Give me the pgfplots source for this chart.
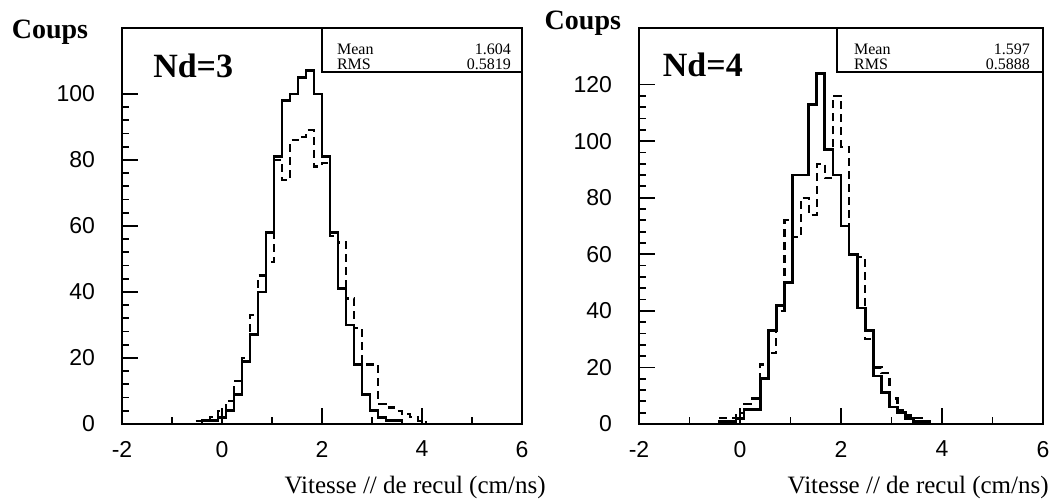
\documentclass[border=0pt]{standalone}
\usepackage{fontspec}
\setmainfont{Liberation Serif}
\setsansfont{Liberation Sans}
\usepackage{pgfplots}
\pgfplotsset{compat=1.18}

% PAW-like histogram frame
\pgfplotsset{
  paw/.style={
    scale only axis,
    width=200pt, height=198pt,
    xmin=-2, xmax=6, ymin=0,
    axis line style={line width=1pt},
    tick align=inside, xtick pos=bottom, ytick pos=left,
    xtick={-2,0,2,4,6}, xticklabels={-2,0,2,4,6},
    minor xtick={-1,1,3,5},
    minor y tick num=4,
    major tick length=8pt, minor tick length=3.5pt,
    every tick/.style={line width=0.9pt, black},
    ticklabel style={font=\sffamily\fontsize{11.5}{11.5}\selectfont},
    yticklabel style={xshift=-10pt},
    xticklabel style={yshift=-5pt},
    clip=false,
  },
  solidh/.style={black, line width=1.4pt, const plot},
  dashh/.style={black, line width=1.1pt, dash pattern=on 4pt off 2.5pt, const plot},
}
\tikzset{
  stat/.style={font=\fontsize{8}{8}\selectfont},
  xlab/.style={anchor=east, inner sep=0pt, font=\fontsize{12.5}{12.5}\selectfont},
}

\begin{document}
\begin{tikzpicture}[x=1pt,y=1pt]
\useasboundingbox (0,0) rectangle (527,251);

% ---- Nd=3 ----
\begin{axis}[paw, at={(61pt,39pt)}, anchor=south west,
    ymax=120, ytick={0,20,...,100}, yticklabels={0,20,40,60,80,100}]
  \addplot[dashh] coordinates {
    (-0.72,0) (-0.56,1) (-0.40,1) (-0.24,2) (-0.08,4) (0.08,7) (0.24,13)
    (0.40,20) (0.56,33) (0.72,45) (0.88,49) (1.04,80) (1.20,74) (1.36,86)
    (1.52,87) (1.68,89) (1.84,78) (2.00,79) (2.16,57) (2.32,55) (2.48,38)
    (2.64,29) (2.80,18) (2.96,18) (3.12,6) (3.28,5) (3.44,4) (3.60,3)
    (3.76,2) (3.92,1) (4.08,0)
  };
  \addplot[solidh] coordinates {
    (-0.56,0) (-0.40,1) (-0.24,1) (-0.08,2) (0.08,4) (0.24,9) (0.40,19)
    (0.56,27) (0.72,40) (0.88,58) (1.04,81) (1.20,98) (1.36,100) (1.52,105)
    (1.68,107) (1.84,100) (2.00,81) (2.16,58) (2.32,41) (2.48,30) (2.64,18)
    (2.80,9) (2.96,4) (3.12,2) (3.28,1) (3.44,1) (3.60,0)
  };
  \draw[line width=0.9pt] (axis description cs:0.5,0.889) rectangle (axis description cs:1,1);
  \node[anchor=west, stat] at (axis description cs:0.52,0.946) {Mean};
  \node[anchor=west, stat] at (axis description cs:0.52,0.909) {RMS};
  \node[anchor=east, stat] at (axis description cs:0.99,0.946) {1.604};
  \node[anchor=east, stat] at (axis description cs:0.99,0.909) {0.5819};
  \node[font=\bfseries\fontsize{17}{17}\selectfont] at (axis description cs:0.178,0.905) {Nd=3};
  \node[font=\bfseries\fontsize{14}{14}\selectfont] at (axis description cs:-0.18,0.99) {Coups};
  \node[xlab] at (axis description cs:1.06,-0.16) {Vitesse // de recul (cm/ns)};
\end{axis}

% ---- Nd=4 ----
\begin{axis}[paw, at={(319.5pt,39pt)}, anchor=south west, width=202pt,
    ymax=140, ytick={0,20,...,120}, yticklabels={0,20,40,60,80,100,120}]
  \addplot[dashh] coordinates {
    (-0.56,0) (-0.40,2) (-0.24,2) (-0.08,4) (0.08,7) (0.24,9) (0.40,21)
    (0.56,25) (0.72,40) (0.88,72) (1.04,66) (1.20,80) (1.36,74) (1.52,92)
    (1.68,87) (1.84,116) (2.00,98) (2.16,60) (2.32,59) (2.48,30) (2.64,20)
    (2.80,18) (2.96,9) (3.12,5) (3.28,3) (3.44,2) (3.60,1) (3.76,0)
  };
  \addplot[solidh] coordinates {
    (-0.56,0) (-0.40,1) (-0.24,1) (-0.08,2) (0.08,5) (0.24,5) (0.40,16)
    (0.56,33) (0.72,42) (0.88,50) (1.04,88) (1.20,88) (1.36,113) (1.52,124)
    (1.68,97) (1.84,88) (2.00,70) (2.16,60) (2.32,41) (2.48,33) (2.64,17)
    (2.80,11) (2.96,6) (3.12,4) (3.28,2) (3.44,1) (3.60,1) (3.76,0)
  };
  \draw[line width=0.9pt] (axis description cs:0.49,0.889) rectangle (axis description cs:1,1);
  \node[anchor=west, stat] at (axis description cs:0.515,0.946) {Mean};
  \node[anchor=west, stat] at (axis description cs:0.515,0.909) {RMS};
  \node[anchor=east, stat] at (axis description cs:0.985,0.946) {1.597};
  \node[anchor=east, stat] at (axis description cs:0.985,0.909) {0.5888};
  \node[font=\bfseries\fontsize{17}{17}\selectfont] at (axis description cs:0.158,0.908) {Nd=4};
  \node[font=\bfseries\fontsize{14}{14}\selectfont] at (axis description cs:-0.139,1.012) {Coups};
  \node[xlab] at (axis description cs:1.015,-0.16) {Vitesse // de recul (cm/ns)};
\end{axis}
\end{tikzpicture}
\end{document}
